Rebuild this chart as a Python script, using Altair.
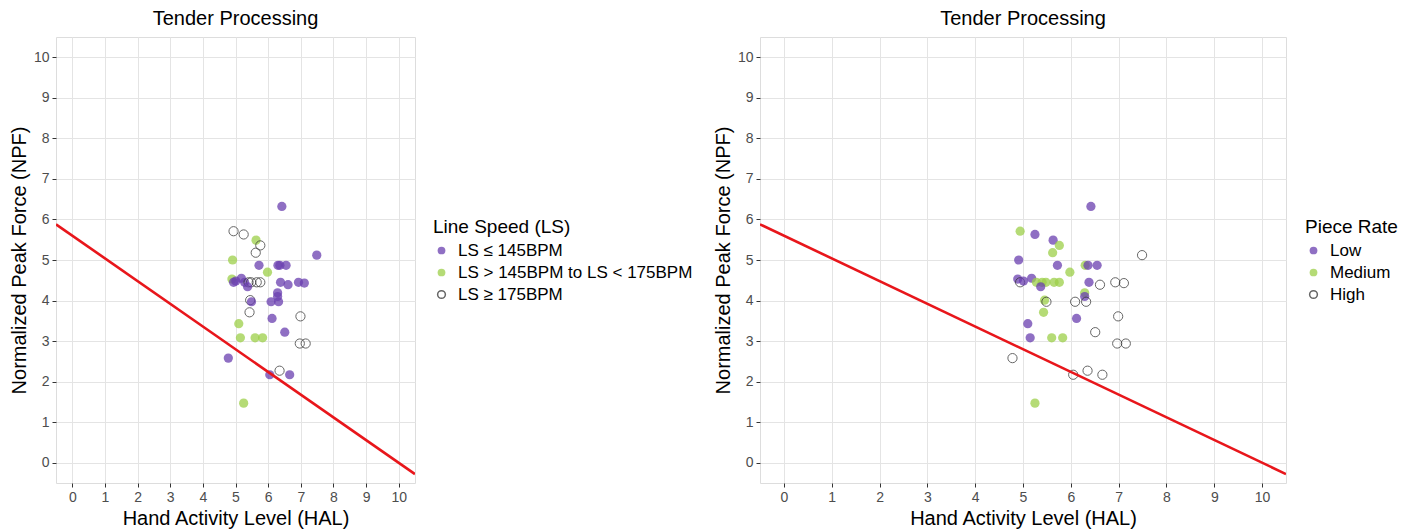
import altair as alt
import pandas as pd

# ---- data (same workers in both panels) ----
hal = [6.42, 4.94, 5.25, 5.63, 5.76, 5.62, 7.49, 4.91, 5.72, 6.30, 6.36, 6.55,
       5.98, 4.89, 4.94, 5.01, 5.18, 5.28, 5.40, 5.48, 5.65, 5.76, 5.37, 6.38,
       6.61, 6.93, 7.11, 6.29, 6.29, 5.45, 5.49, 6.09, 6.32, 5.43, 6.12, 6.99,
       5.10, 6.51, 5.15, 5.60, 5.83, 6.97, 7.15, 4.78, 6.05, 6.35, 6.66, 5.25]
npf = [6.32, 5.71, 5.63, 5.49, 5.36, 5.18, 5.12, 5.00, 4.87, 4.87, 4.87, 4.87,
       4.70, 4.53, 4.45, 4.48, 4.55, 4.45, 4.45, 4.45, 4.45, 4.45, 4.34, 4.45,
       4.39, 4.45, 4.43, 4.19, 4.10, 4.01, 3.97, 3.97, 3.97, 3.71, 3.56, 3.61,
       3.43, 3.22, 3.08, 3.08, 3.08, 2.94, 2.94, 2.58, 2.17, 2.27, 2.17, 1.47]
ls_code = ["L", "H", "H", "M", "H", "H", "L", "M", "L", "L", "L", "L",
           "M", "M", "L", "L", "L", "L", "H", "H", "H", "H", "L", "L",
           "L", "L", "L", "L", "L", "H", "L", "L", "L", "H", "L", "H",
           "M", "L", "M", "M", "M", "H", "H", "L", "L", "H", "L", "M"]
pr_code = ["L", "M", "L", "L", "M", "M", "H", "L", "L", "M", "L", "L",
           "M", "L", "H", "L", "L", "M", "M", "M", "M", "M", "L", "L",
           "H", "H", "H", "M", "L", "M", "H", "H", "H", "M", "L", "H",
           "L", "H", "L", "M", "M", "H", "H", "H", "H", "H", "H", "M"]

ls_labels = ["LS \u2264 145BPM", "LS > 145BPM to LS < 175BPM", "LS \u2265 175BPM"]
pr_labels = ["Low", "Medium", "High"]
code_order = ["L", "M", "H"]

# TLV reference line end points (HAL, NPF)
tlv_hal = [-0.5, 10.5]
tlv_npf = [5.88, -0.28]

axis_values = [0, 0.5, 1, 1.5, 2, 2.5, 3, 3.5, 4, 4.5, 5, 5.5, 6, 6.5, 7, 7.5,
               8, 8.5, 9, 9.5, 10]

fill_colors = ["#6a3fb0", "#9dd049", "transparent"]
stroke_colors = ["transparent", "transparent", "#333333"]

df = pd.DataFrame({
    "HAL": hal,
    "NPF": npf,
    "LS": [ls_labels[code_order.index(c)] for c in ls_code],
    "PR": [pr_labels[code_order.index(c)] for c in pr_code],
})
tlv = pd.DataFrame({"HAL": tlv_hal, "NPF": tlv_npf})

FONT = "Liberation Sans"


def make_axis(title):
    return alt.Axis(
        title=title,
        values=axis_values,
        format="d",
        labelExpr="datum.value % 1 === 0 ? format(datum.value, 'd') : ''",
        labelOverlap=False,
        grid=True,
        gridColor={"condition": {"test": "datum.value % 1 === 0", "value": "#e4e4e4"},
                   "value": "#f2f2f2"},
        gridWidth=1,
        tickOpacity={"condition": {"test": "datum.value % 1 === 0", "value": 1},
                     "value": 0},
        tickColor="#333333",
        tickSize=4,
        domain=False,
        labelColor="#4d4d4d",
        labelFontSize=14,
        labelFont=FONT,
        labelPadding=3,
        titleFontSize=20,
        titleFont=FONT,
        titleFontWeight="normal",
        titleColor="#000000",
        titlePadding=4,
    )


def panel(field, legend_title, labels, width, legend_x):
    xs = alt.Scale(domain=[-0.5, 10.5], nice=False, zero=False)
    ys = alt.Scale(domain=[-0.5, 10.5], nice=False, zero=False)
    x_axis = make_axis("Hand Activity Level (HAL)")
    y_axis = make_axis("Normalized Peak Force (NPF)")
    legend = alt.Legend(
        title=legend_title,
        orient="none",
        legendX=legend_x,
        legendY=181,
        titleFontSize=19,
        titleFont=FONT,
        titleFontWeight="normal",
        titleColor="#000000",
        titlePadding=5,
        labelFontSize=17,
        labelFont=FONT,
        labelColor="#000000",
        labelLimit=0,
        symbolSize=60,
        rowPadding=4,
        labelOffset=8,
    )
    pts = alt.Chart(df).mark_point(size=85, strokeWidth=1, opacity=0.75).encode(
        x=alt.X("HAL:Q", scale=xs, axis=x_axis),
        y=alt.Y("NPF:Q", scale=ys, axis=y_axis),
        fill=alt.Fill(f"{field}:N", scale=alt.Scale(domain=labels, range=fill_colors),
                      sort=labels, legend=legend),
        stroke=alt.Stroke(f"{field}:N", scale=alt.Scale(domain=labels, range=stroke_colors),
                          sort=labels, legend=legend),
    )
    line = alt.Chart(tlv).mark_line(color="#e8161b", strokeWidth=2.6, clip=True).encode(
        x=alt.X("HAL:Q", scale=xs, axis=x_axis),
        y=alt.Y("NPF:Q", scale=ys, axis=y_axis),
    )
    return alt.layer(pts, line).properties(
        width=width,
        height=446,
        title=alt.Title("Tender Processing", fontSize=20, font=FONT,
                        fontWeight="normal", color="#000000", anchor="middle",
                        offset=8),
    )


left = panel("LS", "Line Speed (LS)", ls_labels, 359, 377)
right = panel("PR", "Piece Rate", pr_labels, 526, 545)

chart = alt.hconcat(left, right, spacing=18).resolve_scale(
    fill="independent", stroke="independent"
).resolve_legend(fill="independent", stroke="independent").properties(
    padding={"left": 0, "top": 0, "right": 0, "bottom": 0}
).configure_view(
    stroke="#7f7f7f", strokeWidth=1
).configure(background="white")

chart.save("out.html", embed_options={"renderer": "svg", "actions": False})
